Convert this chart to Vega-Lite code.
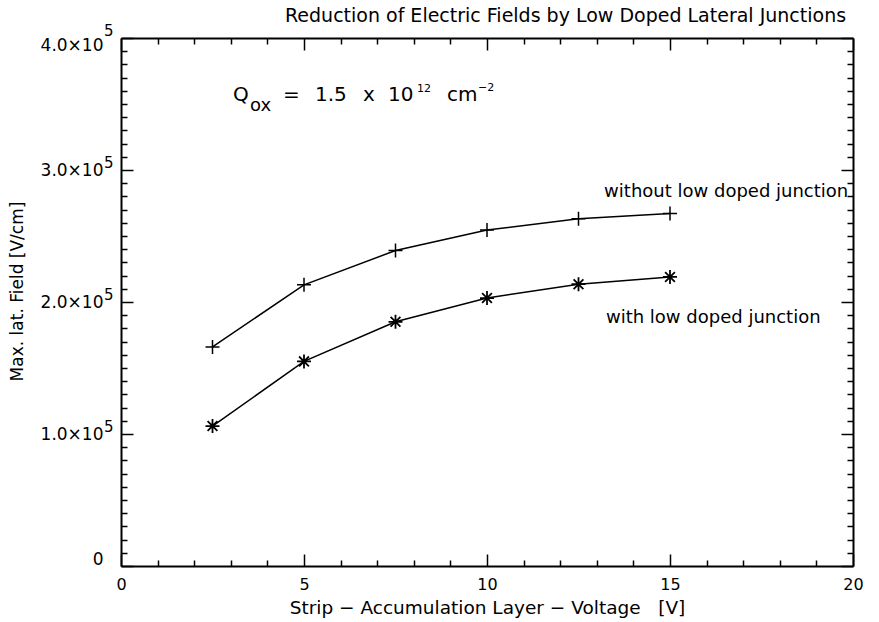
{
  "$schema": "https://vega.github.io/schema/vega-lite/v6.json",
  "width": 732,
  "height": 528,
  "autosize": {"type": "none"},
  "padding": {"left": 121, "top": 38, "right": 26, "bottom": 56},
  "background": "white",
  "title": {"text": "Reduction of Electric Fields by Low Doped Lateral Junctions", "anchor": "start", "frame": "group", "dx": 164, "offset": -2, "font": "DejaVu Sans", "fontSize": 19, "fontWeight": "normal", "color": "black"},
  "config": {"view": {"stroke": null}, "font": "DejaVu Sans"},
  "datasets": {
    "series": [
      {"v": 2.5, "f": 166000, "s": "without"},
      {"v": 5, "f": 213000, "s": "without"},
      {"v": 7.5, "f": 239000, "s": "without"},
      {"v": 10, "f": 254500, "s": "without"},
      {"v": 12.5, "f": 263000, "s": "without"},
      {"v": 15, "f": 267000, "s": "without"},
      {"v": 2.5, "f": 106000, "s": "with"},
      {"v": 5, "f": 155000, "s": "with"},
      {"v": 7.5, "f": 185000, "s": "with"},
      {"v": 10, "f": 203000, "s": "with"},
      {"v": 12.5, "f": 213500, "s": "with"},
      {"v": 15, "f": 219000, "s": "with"}
    ],
    "notes": [
      {"v": 13.2, "f": 279500, "t": "without low doped junction"},
      {"v": 13.25, "f": 184100, "t": "with low doped junction"}
    ],
    "qbig": [
      {"v": 3.06, "f": 352300, "t": "Q"},
      {"v": 4.426, "f": 352300, "t": "="},
      {"v": 5.30, "f": 352300, "t": "1.5"},
      {"v": 6.61, "f": 352300, "t": "x"},
      {"v": 7.295, "f": 352300, "t": "10"},
      {"v": 8.907, "f": 352300, "t": "cm"}
    ],
    "qsub": [
      {"v": 3.525, "f": 344700, "t": "ox"}
    ],
    "qsup": [
      {"v": 8.087, "f": 359100, "t": "12"},
      {"v": 9.754, "f": 359500, "t": "−2"}
    ],
    "ysup": [
      {"v": 0, "f": 100000, "t": "5"},
      {"v": 0, "f": 200000, "t": "5"},
      {"v": 0, "f": 300000, "t": "5"},
      {"v": 0, "f": 400000, "t": "5"}
    ]
  },
  "resolve": {"axis": {"x": "independent", "y": "independent"}},
  "layer": [
    {
      "data": {"name": "series"},
      "mark": {"type": "line", "color": "black", "strokeWidth": 1.5},
      "encoding": {
        "x": {"field": "v", "type": "quantitative", "scale": {"domain": [0, 20], "nice": false, "zero": false},
          "axis": {"orient": "bottom", "title": "Strip − Accumulation Layer − Voltage\u00a0\u00a0 [V]",
            "values": [0,1,2,3,4,5,6,7,8,9,10,11,12,13,14,15,16,17,18,19,20],
            "labelExpr": "datum.value % 5 === 0 ? format(datum.value, 'd') : ''",
            "labelOverlap": false, "labelFlush": false, "labelBound": false,
            "tickSize": {"condition": {"test": "datum.value % 5 === 0", "value": -12}, "value": -6},
            "tickColor": "black", "tickWidth": 1.5, "domainColor": "black", "domainWidth": 2,
            "grid": false, "labelFontSize": 16, "labelColor": "black", "labelPadding": 22,
            "titleFontSize": 18.5, "titleFontWeight": "normal", "titleColor": "black", "titlePadding": 0}},
        "y": {"field": "f", "type": "quantitative", "scale": {"domain": [0, 400000], "nice": false},
          "axis": {"orient": "left", "title": "Max. lat. Field [V/cm]",
            "values": [0,10000,20000,30000,40000,50000,60000,70000,80000,90000,100000,110000,120000,130000,140000,150000,160000,170000,180000,190000,200000,210000,220000,230000,240000,250000,260000,270000,280000,290000,300000,310000,320000,330000,340000,350000,360000,370000,380000,390000,400000],
            "labelExpr": "datum.value === 0 ? '0' : (datum.value % 100000 === 0 ? format(datum.value / 100000, '.1f') + '×10' : '')",
            "labelOverlap": false, "labelFlush": false, "labelBound": false,
            "labelOffset": {"condition": [{"test": "datum.value === 400000", "value": 7}, {"test": "datum.value === 0", "value": -7}], "value": 0},
            "tickSize": {"condition": {"test": "datum.value % 100000 === 0", "value": -12}, "value": -6},
            "tickColor": "black", "tickWidth": 1.5, "domainColor": "black", "domainWidth": 2,
            "grid": false, "labelFontSize": 17, "labelColor": "black", "labelPadding": 30,
            "titleFontSize": 17, "titleFontWeight": "normal", "titleColor": "black",
            "titleX": -104, "titleY": 253, "titleAngle": 270, "titleAlign": "center", "titleBaseline": "middle"}},
        "detail": {"field": "s"}
      }
    },
    {
      "data": {"name": "series"},
      "transform": [{"filter": "datum.s === 'without'"}],
      "mark": {"type": "point", "shape": "M-1,0L1,0M0,-1L0,1", "filled": false, "stroke": "black", "strokeWidth": 1.5, "size": 196, "opacity": 1},
      "encoding": {
        "x": {"field": "v", "type": "quantitative",
          "axis": {"orient": "top", "title": null,
            "values": [0,1,2,3,4,5,6,7,8,9,10,11,12,13,14,15,16,17,18,19,20],
            "labels": false,
            "tickSize": {"condition": {"test": "datum.value % 5 === 0", "value": -12}, "value": -6},
            "tickColor": "black", "tickWidth": 1.5, "domainColor": "black", "domainWidth": 2, "grid": false}},
        "y": {"field": "f", "type": "quantitative",
          "axis": {"orient": "right", "title": null,
            "values": [0,10000,20000,30000,40000,50000,60000,70000,80000,90000,100000,110000,120000,130000,140000,150000,160000,170000,180000,190000,200000,210000,220000,230000,240000,250000,260000,270000,280000,290000,300000,310000,320000,330000,340000,350000,360000,370000,380000,390000,400000],
            "labels": false,
            "tickSize": {"condition": {"test": "datum.value % 100000 === 0", "value": -12}, "value": -6},
            "tickColor": "black", "tickWidth": 1.5, "domainColor": "black", "domainWidth": 2, "grid": false}}
      }
    },
    {
      "data": {"name": "series"},
      "transform": [{"filter": "datum.s === 'with'"}],
      "mark": {"type": "point", "shape": "M-1,0L1,0M0,-1L0,1M-0.7,-0.7L0.7,0.7M-0.7,0.7L0.7,-0.7", "filled": false, "stroke": "black", "strokeWidth": 1.8, "size": 196, "opacity": 1},
      "encoding": {
        "x": {"field": "v", "type": "quantitative", "axis": null},
        "y": {"field": "f", "type": "quantitative", "axis": null}
      }
    },
    {
      "data": {"name": "notes"},
      "mark": {"type": "text", "align": "left", "baseline": "alphabetic", "fontSize": 18, "color": "black", "font": "DejaVu Sans"},
      "encoding": {
        "x": {"field": "v", "type": "quantitative", "axis": null},
        "y": {"field": "f", "type": "quantitative", "axis": null},
        "text": {"field": "t"}
      }
    },
    {
      "data": {"name": "qbig"},
      "mark": {"type": "text", "align": "left", "baseline": "alphabetic", "fontSize": 20, "color": "black", "font": "DejaVu Sans"},
      "encoding": {
        "x": {"field": "v", "type": "quantitative", "axis": null},
        "y": {"field": "f", "type": "quantitative", "axis": null},
        "text": {"field": "t"}
      }
    },
    {
      "data": {"name": "qsub"},
      "mark": {"type": "text", "align": "left", "baseline": "alphabetic", "fontSize": 18, "color": "black", "font": "DejaVu Sans"},
      "encoding": {
        "x": {"field": "v", "type": "quantitative", "axis": null},
        "y": {"field": "f", "type": "quantitative", "axis": null},
        "text": {"field": "t"}
      }
    },
    {
      "data": {"name": "qsup"},
      "mark": {"type": "text", "align": "left", "baseline": "alphabetic", "fontSize": 11, "color": "black", "font": "DejaVu Sans"},
      "encoding": {
        "x": {"field": "v", "type": "quantitative", "axis": null},
        "y": {"field": "f", "type": "quantitative", "axis": null},
        "text": {"field": "t"}
      }
    },
    {
      "data": {"name": "ysup"},
      "mark": {"type": "text", "align": "left", "baseline": "alphabetic", "fontSize": 15, "color": "black", "font": "DejaVu Sans", "dx": -17, "dy": -2},
      "encoding": {
        "x": {"field": "v", "type": "quantitative", "axis": null},
        "y": {"field": "f", "type": "quantitative", "axis": null},
        "text": {"field": "t"}
      }
    }
  ]
}
